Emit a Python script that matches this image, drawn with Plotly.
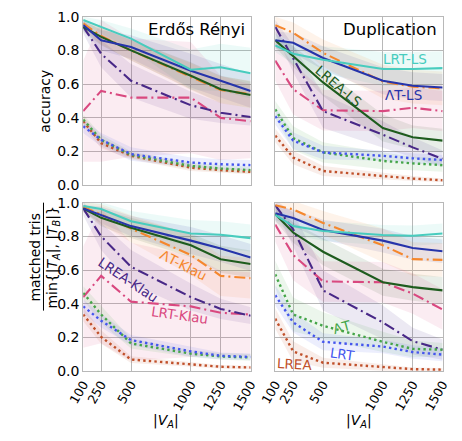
import plotly.graph_objects as go

# ---------------- data ----------------
X = [100, 250, 500, 1000, 1250, 1500]
XTICKS = [100, 250, 500, 1000, 1250, 1500]
YTICKS = [0.0, 0.2, 0.4, 0.6, 0.8, 1.0]
SERIES = ["LRT-LS", "ΛT-LS", "LREA-LS", "ΛT-Klau", "LREA-Klau", "LRT-Klau", "ΛT", "LRT", "LREA"]
DRAW_ORDER = ["LRT-Klau", "LREA-Klau", "ΛT-Klau", "LREA", "ΛT", "LRT", "LREA-LS", "ΛT-LS", "LRT-LS"]

# Erdős Rényi – accuracy (mean, std)
ER_ACC = {
    "LRT-LS":    [0.98, 0.94, 0.87, 0.685, 0.70, 0.665],
    "ΛT-LS":     [0.95, 0.86, 0.82, 0.68, 0.62, 0.56],
    "LREA-LS":   [0.94, 0.88, 0.80, 0.65, 0.57, 0.535],
    "ΛT-Klau":   [0.96, 0.885, 0.80, 0.645, 0.565, 0.54],
    "LREA-Klau": [0.94, 0.78, 0.62, 0.475, 0.43, 0.405],
    "LRT-Klau":  [0.44, 0.56, 0.52, 0.52, 0.40, 0.38],
    "ΛT":        [0.39, 0.27, 0.18, 0.115, 0.10, 0.09],
    "LRT":       [0.35, 0.27, 0.185, 0.135, 0.125, 0.12],
    "LREA":      [0.38, 0.25, 0.175, 0.105, 0.09, 0.08],
}
ER_ACC_SD = {
    "LRT-LS":    [0.02, 0.04, 0.06, 0.12, 0.14, 0.15],
    "ΛT-LS":     [0.03, 0.06, 0.07, 0.10, 0.10, 0.10],
    "LREA-LS":   [0.03, 0.05, 0.06, 0.08, 0.08, 0.08],
    "ΛT-Klau":   [0.03, 0.05, 0.06, 0.08, 0.08, 0.08],
    "LREA-Klau": [0.04, 0.08, 0.10, 0.08, 0.06, 0.05],
    "LRT-Klau":  [0.30, 0.42, 0.35, 0.33, 0.25, 0.22],
    "ΛT":        [0.03, 0.03, 0.02, 0.02, 0.02, 0.02],
    "LRT":       [0.04, 0.04, 0.04, 0.03, 0.03, 0.03],
    "LREA":      [0.03, 0.03, 0.02, 0.02, 0.015, 0.015],
}

# Duplication – accuracy
DUP_ACC = {
    "LRT-LS":    [0.83, 0.78, 0.745, 0.69, 0.69, 0.695],
    "ΛT-LS":     [0.86, 0.845, 0.755, 0.62, 0.59, 0.58],
    "LREA-LS":   [0.86, 0.765, 0.61, 0.34, 0.285, 0.265],
    "ΛT-Klau":   [0.95, 0.905, 0.785, 0.615, 0.585, 0.575],
    "LREA-Klau": [0.94, 0.75, 0.44, 0.30, 0.225, 0.157],
    "LRT-Klau":  [0.74, 0.57, 0.445, 0.44, 0.46, 0.44],
    "ΛT":        [0.45, 0.28, 0.195, 0.145, 0.13, 0.12],
    "LRT":       [0.41, 0.265, 0.195, 0.175, 0.16, 0.15],
    "LREA":      [0.295, 0.165, 0.085, 0.055, 0.04, 0.03],
}
DUP_ACC_SD = {
    "LRT-LS":    [0.04, 0.06, 0.08, 0.10, 0.10, 0.10],
    "ΛT-LS":     [0.05, 0.06, 0.07, 0.08, 0.08, 0.08],
    "LREA-LS":   [0.04, 0.06, 0.08, 0.08, 0.07, 0.07],
    "ΛT-Klau":   [0.05, 0.06, 0.08, 0.10, 0.10, 0.10],
    "LREA-Klau": [0.04, 0.08, 0.10, 0.08, 0.06, 0.05],
    "LRT-Klau":  [0.12, 0.15, 0.12, 0.12, 0.12, 0.12],
    "ΛT":        [0.05, 0.07, 0.06, 0.05, 0.04, 0.04],
    "LRT":       [0.05, 0.05, 0.04, 0.03, 0.03, 0.03],
    "LREA":      [0.04, 0.04, 0.03, 0.02, 0.015, 0.01],
}

# Erdős Rényi – matched triangles
ER_TRI = {
    "LRT-LS":    [0.98, 0.962, 0.89, 0.817, 0.81, 0.79],
    "ΛT-LS":     [0.966, 0.928, 0.861, 0.775, 0.728, 0.675],
    "LREA-LS":   [0.966, 0.91, 0.851, 0.747, 0.665, 0.636],
    "ΛT-Klau":   [0.975, 0.93, 0.846, 0.69, 0.566, 0.552],
    "LREA-Klau": [0.966, 0.80, 0.62, 0.44, 0.37, 0.33],
    "LRT-Klau":  [0.44, 0.566, 0.413, 0.385, 0.347, 0.337],
    "ΛT":        [0.465, 0.337, 0.165, 0.105, 0.088, 0.082],
    "LRT":       [0.385, 0.30, 0.185, 0.118, 0.092, 0.085],
    "LREA":      [0.337, 0.204, 0.07, 0.042, 0.027, 0.023],
}
ER_TRI_SD = {
    "LRT-LS":    [0.02, 0.04, 0.06, 0.08, 0.08, 0.08],
    "ΛT-LS":     [0.02, 0.05, 0.06, 0.08, 0.08, 0.08],
    "LREA-LS":   [0.02, 0.05, 0.06, 0.07, 0.08, 0.08],
    "ΛT-Klau":   [0.03, 0.06, 0.08, 0.12, 0.12, 0.12],
    "LREA-Klau": [0.04, 0.08, 0.10, 0.08, 0.06, 0.05],
    "LRT-Klau":  [0.30, 0.40, 0.35, 0.30, 0.25, 0.25],
    "ΛT":        [0.04, 0.05, 0.03, 0.02, 0.02, 0.02],
    "LRT":       [0.04, 0.04, 0.03, 0.03, 0.02, 0.02],
    "LREA":      [0.04, 0.04, 0.02, 0.015, 0.01, 0.01],
}

# Duplication – matched triangles
DUP_TRI = {
    "LRT-LS":    [0.928, 0.861, 0.832, 0.808, 0.804, 0.817],
    "ΛT-LS":     [0.937, 0.909, 0.838, 0.775, 0.731, 0.712],
    "LREA-LS":   [0.933, 0.823, 0.709, 0.528, 0.499, 0.48],
    "ΛT-Klau":   [0.985, 0.96, 0.88, 0.747, 0.665, 0.661],
    "LREA-Klau": [0.985, 0.842, 0.48, 0.29, 0.179, 0.128],
    "LRT-Klau":  [0.87, 0.69, 0.533, 0.528, 0.461, 0.366],
    "ΛT":        [0.575, 0.337, 0.27, 0.175, 0.133, 0.128],
    "LRT":       [0.451, 0.29, 0.175, 0.147, 0.114, 0.099],
    "LREA":      [0.312, 0.118, 0.051, 0.023, 0.013, 0.01],
}
DUP_TRI_SD = {
    "LRT-LS":    [0.04, 0.05, 0.06, 0.06, 0.06, 0.06],
    "ΛT-LS":     [0.04, 0.05, 0.06, 0.07, 0.07, 0.07],
    "LREA-LS":   [0.04, 0.06, 0.08, 0.08, 0.08, 0.08],
    "ΛT-Klau":   [0.02, 0.05, 0.07, 0.10, 0.10, 0.10],
    "LREA-Klau": [0.03, 0.10, 0.12, 0.10, 0.08, 0.06],
    "LRT-Klau":  [0.10, 0.15, 0.12, 0.12, 0.12, 0.12],
    "ΛT":        [0.08, 0.10, 0.08, 0.06, 0.05, 0.04],
    "LRT":       [0.06, 0.06, 0.05, 0.04, 0.04, 0.04],
    "LREA":      [0.06, 0.06, 0.03, 0.02, 0.01, 0.01],
}

# ---------------- styles ----------------
COLORS = {
    "LRT-LS": (72, 204, 190),
    "ΛT-LS": (38, 52, 170),
    "LREA-LS": (30, 92, 30),
    "ΛT-Klau": (245, 135, 45),
    "LREA-Klau": (72, 40, 135),
    "LRT-Klau": (217, 72, 127),
    "ΛT": (68, 165, 72),
    "LRT": (68, 85, 238),
    "LREA": (192, 80, 42),
}
DASHDOT = "11px,4px,2px,4px"
DOT = "2.4px,3.2px"
DASHES = {
    "LRT-LS": "solid", "ΛT-LS": "solid", "LREA-LS": "solid",
    "ΛT-Klau": DASHDOT, "LREA-Klau": DASHDOT, "LRT-Klau": DASHDOT,
    "ΛT": DOT, "LRT": DOT, "LREA": DOT,
}

W, H = 462, 441
def px_x(p):
    return p / W
def px_y(p):
    return 1 - p / H

LEFT_DOM = [px_x(70), px_x(247)]
RIGHT_DOM = [px_x(273), px_x(450)]
TOP_DOM = [px_y(184), px_y(9)]
BOT_DOM = [px_y(377), px_y(202)]

panels = [
    ("x", "y", ER_ACC, ER_ACC_SD),
    ("x2", "y2", DUP_ACC, DUP_ACC_SD),
    ("x3", "y3", ER_TRI, ER_TRI_SD),
    ("x4", "y4", DUP_TRI, DUP_TRI_SD),
]

fig = go.Figure()

def rgba(c, a):
    return "rgba(%d,%d,%d,%.3f)" % (c[0], c[1], c[2], a)

for xa, ya, means, sds in panels:
    for s in SERIES:
        m = means[s]
        sd = sds[s]
        up = [a + b for a, b in zip(m, sd)]
        lo = [a - b for a, b in zip(m, sd)]
        fig.add_trace(go.Scatter(
            x=X + X[::-1], y=up + lo[::-1], xaxis=xa, yaxis=ya,
            fill="toself", fillcolor=rgba(COLORS[s], 0.10),
            line=dict(width=0), mode="lines", hoverinfo="skip", showlegend=False))
    for s in DRAW_ORDER:
        fig.add_trace(go.Scatter(
            x=X, y=means[s], xaxis=xa, yaxis=ya, mode="lines",
            line=dict(color=rgba(COLORS[s], 1), width=2.4 if DASHES[s] == DOT else 2.1,
                      dash=DASHES[s]),
            showlegend=False, name=s))

GRID = "#b8b8b8"
FONT = dict(family="DejaVu Sans", size=14, color="black")
XFONT = dict(family="DejaVu Sans", size=12.5, color="black")

def xax(dom, anchor, labels):
    return dict(domain=dom, anchor=anchor, range=[100, 1500], tickvals=XTICKS,
                ticktext=[str(t) for t in XTICKS], showticklabels=labels,
                tickangle=-60, showgrid=True, gridcolor=GRID, gridwidth=1,
                showline=True, linecolor=GRID, linewidth=1, mirror=True,
                zeroline=False, ticks="", tickfont=XFONT)

def yax(dom, anchor, labels):
    return dict(domain=dom, anchor=anchor, range=[0, 1], tickvals=YTICKS,
                ticktext=["%.1f" % t for t in YTICKS], showticklabels=labels,
                showgrid=True, gridcolor=GRID, gridwidth=1,
                showline=True, linecolor=GRID, linewidth=1, mirror=True,
                zeroline=False, ticks="", tickfont=FONT)

fig.update_layout(
    width=W, height=H, margin=dict(l=0, r=0, t=0, b=0),
    plot_bgcolor="white", paper_bgcolor="white", font=FONT,
    xaxis=xax(LEFT_DOM, "y", False), yaxis=yax(TOP_DOM, "x", True),
    xaxis2=xax(RIGHT_DOM, "y2", False), yaxis2=yax(TOP_DOM, "x2", False),
    xaxis3=xax(LEFT_DOM, "y3", True), yaxis3=yax(BOT_DOM, "x3", True),
    xaxis4=xax(RIGHT_DOM, "y4", True), yaxis4=yax(BOT_DOM, "x4", False),
)

ann = []
def add_text(text, x, y, color="black", size=14, angle=0, xanchor="center"):
    ann.append(dict(text=text, x=px_x(x), y=px_y(y), xref="paper", yref="paper",
                    showarrow=False, textangle=angle, xanchor=xanchor, yanchor="middle",
                    font=dict(family="DejaVu Sans", size=size, color=color)))

def col(s):
    return rgba(COLORS[s], 1)

add_text("Erdős Rényi", 243, 22, size=16.5, xanchor="right")
add_text("Duplication", 446, 22, size=16.5, xanchor="right")
add_text("LRT-LS", 410, 53, col("LRT-LS"), size=13.5)
add_text("ΛT-LS", 409, 90, col("ΛT-LS"), size=13.5)
add_text("LREA-LS", 340, 81, col("LREA-LS"), size=13.5, angle=40)
add_text("ΛT-Klau", 176, 267, col("ΛT-Klau"), size=13.5, angle=27)
add_text("LREA-Klau", 118, 282, col("LREA-Klau"), size=13.5, angle=34)
add_text("LRT-Klau", 172, 319, col("LRT-Klau"), size=13.5, angle=8)
add_text("ΛT", 344, 331, col("ΛT"), size=13.5, angle=-15)
add_text("LRT", 344, 359, col("LRT"), size=13.5, angle=8)
add_text("LREA", 293, 369, col("LREA"), size=13.5, angle=3)
add_text("accuracy", 30, 97, angle=-90)
add_text("|<i>V</i><sub><i>A</i></sub>|", 158, 429)
add_text("|<i>V</i><sub><i>A</i></sub>|", 362, 429)
# fraction y-label for bottom row
FRAC_Y = 258
add_text("matched tris", 19, FRAC_Y, angle=-90)
add_text("min{|<i>T</i><sub><i>A</i></sub>|, |<i>T</i><sub><i>B</i></sub>|}", 38, FRAC_Y, angle=-90)
fig.update_layout(annotations=ann)
fig.add_shape(type="line", xref="paper", yref="paper",
              x0=px_x(28), x1=px_x(28), y0=px_y(FRAC_Y - 56), y1=px_y(FRAC_Y + 56),
              line=dict(color="black", width=1))

fig.write_html("out.html")
